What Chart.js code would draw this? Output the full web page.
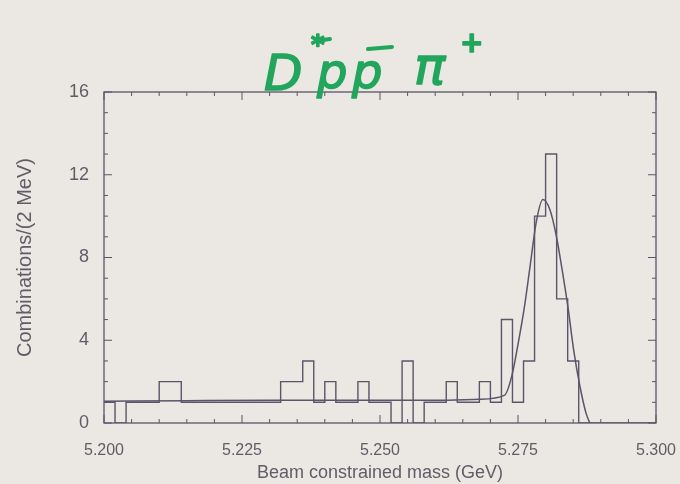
<!DOCTYPE html>
<html>
<head>
<meta charset="utf-8">
<script src="https://cdn.jsdelivr.net/npm/chart.js@4.4.0/dist/chart.umd.min.js"></script>
<style>
  html, body { margin: 0; padding: 0; background: #ebe8e4; }
  #box { width: 680px; height: 484px; }
</style>
</head>
<body>
<div id="box"><canvas id="myChart"></canvas></div>
<script>
// histogram: 2 MeV bins starting at 5.200 GeV
var binStart = 5.200;
var binWidth = 0.002;
var counts = [1,0,1,1,1,2,2,1,1,1,
              1,1,1,1,1,1,2,2,3,1,
              2,1,1,2,1,1,0,3,0,1,
              1,2,1,1,2,1,5,1,3,10,
              13,6,3,0,0,0,0,0,0,0];

// fitted curve (GeV, combinations)
var fitMass  = [5.200,5.215,5.230,5.245,5.260,5.268,5.2726,5.2739,5.2750,5.2761,5.2772,
                5.2783,5.2795,5.2808,5.2819,5.2830,5.2841,5.2851,5.2862,5.2873,5.2880];
var fitValue = [1.05,1.08,1.10,1.10,1.10,1.15,1.35,2.3,3.8,5.5,7.6,
                9.7,10.8,10.3,9.1,7.4,5.5,3.5,1.8,0.5,0];

var xTicks = [5.200,5.225,5.250,5.275,5.300];
var yTicks = [0,4,8,12,16];

var ink = '#5a5568';
var textCol = '#5f5d66';

var histPts = [];
for (var i = 0; i < counts.length; i++) {
  histPts.push({x: binStart + i*binWidth, y: counts[i]});
}
histPts.push({x: binStart + counts.length*binWidth, y: counts[counts.length-1]});

var fitPts = [];
for (var j = 0; j < fitMass.length; j++) {
  fitPts.push({x: fitMass[j], y: fitValue[j]});
}

// paper background
var paper = {
  id: 'paper',
  beforeDraw: function(chart) {
    var ctx = chart.ctx;
    ctx.save();
    ctx.fillStyle = '#ebe8e4';
    ctx.fillRect(0, 0, chart.width, chart.height);
    ctx.restore();
  }
};

// box around the plot with inward ticks on every side
var frame = {
  id: 'frame',
  afterDraw: function(chart) {
    var ctx = chart.ctx, a = chart.chartArea;
    var xs = chart.scales.x, ys = chart.scales.y;
    ctx.save();
    ctx.strokeStyle = ink;
    ctx.lineWidth = 1.3;
    ctx.strokeRect(a.left, a.top, a.right - a.left, a.bottom - a.top);
    ctx.lineWidth = 1;
    ctx.beginPath();
    for (var k = 0; k <= 20; k++) {
      var v = 5.200 + k*0.005;
      var px = xs.getPixelForValue(v);
      var len = (k % 5 === 0) ? 8 : 4;
      ctx.moveTo(px, a.bottom); ctx.lineTo(px, a.bottom - len);
      ctx.moveTo(px, a.top); ctx.lineTo(px, a.top + len);
    }
    for (var n = 0; n <= 16; n++) {
      var py = ys.getPixelForValue(n);
      var l2 = (n % 4 === 0) ? 8 : 4;
      ctx.moveTo(a.left, py); ctx.lineTo(a.left + l2, py);
      ctx.moveTo(a.right, py); ctx.lineTo(a.right - l2, py);
    }
    ctx.stroke();
    ctx.restore();
  }
};

// handwritten decay mode above the plot, in green marker
function marker(ctx, txt, x, y) {
  ctx.fillText(txt, x, y);
  ctx.strokeText(txt, x, y);
}

var decayLabel = {
  id: 'decayLabel',
  afterDraw: function(chart) {
    var ctx = chart.ctx;
    ctx.save();
    ctx.fillStyle = '#22a55c';
    ctx.strokeStyle = '#22a55c';
    ctx.lineWidth = 1.5;
    ctx.lineJoin = 'round';
    ctx.textBaseline = 'alphabetic';
    ctx.font = 'italic 50px "DejaVu Sans"';
    marker(ctx, 'D', 264, 90);
    ctx.font = 'bold 26px "DejaVu Sans"';
    marker(ctx, '*', 311, 54);
    ctx.font = 'italic 48px "DejaVu Sans"';
    marker(ctx, 'p', 317, 88);
    marker(ctx, 'p', 352, 88);
    ctx.font = 'italic 52px "DejaVu Sans"';
    marker(ctx, '\u03c0', 414, 84);
    ctx.font = 'bold 28px "DejaVu Sans"';
    marker(ctx, '+', 460, 52);
    ctx.lineWidth = 4;
    ctx.lineCap = 'round';
    ctx.beginPath();
    ctx.moveTo(316, 41); ctx.lineTo(330, 39);
    ctx.moveTo(368, 49); ctx.lineTo(392, 47);
    ctx.stroke();
    ctx.restore();
  }
};

var config = {
  type: 'line',
  data: {
    datasets: [
      {
        data: histPts,
        stepped: 'before',
        borderColor: ink,
        borderWidth: 1.4,
        pointRadius: 0,
        fill: false
      },
      {
        data: fitPts,
        cubicInterpolationMode: 'monotone',
        borderColor: ink,
        borderWidth: 1.5,
        pointRadius: 0,
        fill: false
      }
    ]
  },
  options: {
    responsive: true,
    maintainAspectRatio: false,
    animation: false,
    layout: { padding: { top: 92, right: 24, left: 0, bottom: 0 } },
    plugins: {
      legend: { display: false },
      tooltip: { enabled: false }
    },
    scales: {
      x: {
        type: 'linear',
        min: 5.200,
        max: 5.300,
        afterBuildTicks: function(s) { s.ticks = xTicks.map(function(v) { return {value: v}; }); },
        afterFit: function(s) { s.height = 61; s.paddingRight = 0; s.paddingLeft = 0; },
        grid: { display: false },
        border: { display: false },
        ticks: {
          color: textCol,
          padding: 10,
          font: { family: 'Liberation Sans', size: 16 },
          callback: function(v) { return v.toFixed(3); }
        },
        title: {
          display: true,
          text: 'Beam constrained mass (GeV)',
          color: textCol,
          padding: 0,
          font: { family: 'Liberation Sans', size: 18 }
        }
      },
      y: {
        min: 0,
        max: 16,
        afterBuildTicks: function(s) { s.ticks = yTicks.map(function(v) { return {value: v}; }); },
        afterFit: function(s) { s.width = 104; },
        grid: { display: false },
        border: { display: false },
        ticks: {
          color: textCol,
          padding: 7,
          font: { family: 'Liberation Sans', size: 18 }
        },
        title: {
          display: true,
          text: 'Combinations/(2 MeV)',
          color: textCol,
          padding: { top: 13, bottom: 0 },
          font: { family: 'Liberation Sans', size: 20 }
        }
      }
    }
  },
  plugins: [paper, frame, decayLabel]
};

var myChart = new Chart(document.getElementById('myChart'), config);
</script>
</body>
</html>
